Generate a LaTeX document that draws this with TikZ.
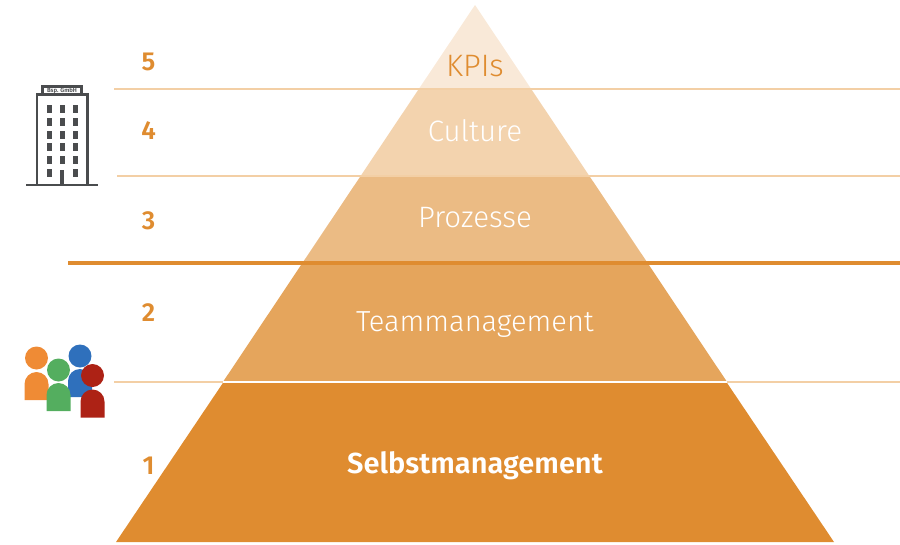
\documentclass[tikz,border=0pt]{standalone}
\usepackage{fontspec}
\setmainfont{Fira Sans}[UprightFont={* Light},BoldFont={* SemiBold}]
\definecolor{ora}{HTML}{DF8C30}
\definecolor{lay1}{HTML}{F9E9D8}
\definecolor{lay2}{HTML}{F3D3AE}
\definecolor{lay3}{HTML}{EBBB84}
\definecolor{lay4}{HTML}{E5A55C}
\definecolor{rule}{HTML}{F3CFA5}
\definecolor{grayb}{HTML}{4A4C4E}
\definecolor{porange}{HTML}{EF8B35}
\definecolor{pgreen}{HTML}{54AE5F}
\definecolor{pblue}{HTML}{2F70BC}
\definecolor{pred}{HTML}{AD2215}
\tikzset{
  num/.style={text=ora,font=\fontsize{26}{26}\selectfont\bfseries,inner sep=0pt},
  lab/.style={text=white,font=\fontsize{29.5}{29.5}\selectfont,inner sep=0pt,anchor=base},
  rulel/.style={draw=rule,line width=1.2pt},
  win/.style={fill=grayb},
}
\newcommand{\person}[4]{% cx, headcy, bodytop, colour
  \fill[#4] (#1,#2) circle (11.5);
  \fill[#4] (#1-12,#3+28) -- (#1-12,#3+12) arc[start angle=180,end angle=360,radius=12] -- (#1+12,#3+28) -- cycle;
}
\begin{document}
\begin{tikzpicture}[x=1pt,y=-1pt]
\useasboundingbox (0,0) rectangle (900,544);
% pyramid layers
\fill[lay1] (475,5) -- (531.2,89) -- (418.8,89) -- cycle;
\fill[lay2] (418.8,89) -- (531.2,89) -- (589.4,176) -- (360.6,176) -- cycle;
\fill[lay3] (360.6,176) -- (589.4,176) -- (647.6,263) -- (302.4,263) -- cycle;
\fill[lay4] (302.4,263) -- (647.6,263) -- (727.1,382) -- (222.9,382) -- cycle;
\fill[ora] (222.9,383) -- (727.1,383) -- (834,542) -- (116,542) -- cycle;
% rules
\draw[rulel] (114,89) -- (900,89);
\draw[rulel] (117,176) -- (900,176);
\draw[ora,line width=4pt] (68,263) -- (900,263);
\draw[rulel] (114,382) -- (222.9,382);
\draw[rulel] (727.1,382) -- (900,382);
\draw[white,line width=1.2pt] (222.9,382) -- (727.1,382);
% labels
\node[lab,text=ora,font=\fontsize{31}{31}\selectfont] (kpi) at (475,76) {KPIs};
\node[lab] (cul) at (475,141) {Culture};
\node[lab] (pro) at (475,227.5) {Prozesse};
\node[lab,font=\fontsize{29}{29}\selectfont] (team) at (475,331) {Teammanagement};
\node[lab,font=\fontsize{29}{29}\selectfont\bfseries] (selb) at (475,473) {Selbstmanagement};
\node[num] (n5) at (148.5,61.5) {5};
\node[num] (n4) at (148.5,130.5) {4};
\node[num] (n3) at (148.5,220.5) {3};
\node[num] (n2) at (148.5,312.5) {2};
\node[num] (n1) at (148.5,465.5) {1};
% building
\draw[grayb,line width=2.2pt] (37,185) -- (37,94.5) -- (87.5,94.5) -- (87.5,185);
\draw[grayb,line width=2.2pt] (42.5,94) -- (42.5,86.5) -- (81.5,86.5) -- (81.5,94);
\draw[grayb,line width=2.4pt] (26,185) -- (98,185);
\node[text=grayb,font=\fontsize{6}{6}\selectfont\bfseries,inner sep=0pt] (sign) at (62,90.5) {Bsp. GmbH};
\foreach \y in {108.5,121.5,134.5,147.3,160.3,173.3}{
  \foreach \x in {49,62,75}{
    \ifdim\y pt=173.3pt \ifnum\x=62 \else \fill[win] (\x-2.5,\y-4) rectangle (\x+2.5,\y+4); \fi
    \else \fill[win] (\x-2.5,\y-4) rectangle (\x+2.5,\y+4); \fi
  }
}
\fill[grayb] (59.7,169.5) rectangle (64.3,185);
% people
\person{36.5}{358}{372}{porange}
\person{80}{356}{369}{pblue}
\person{58.5}{370}{383}{pgreen}
\person{92.5}{375.5}{389.5}{pred}
\end{tikzpicture}
\end{document}
